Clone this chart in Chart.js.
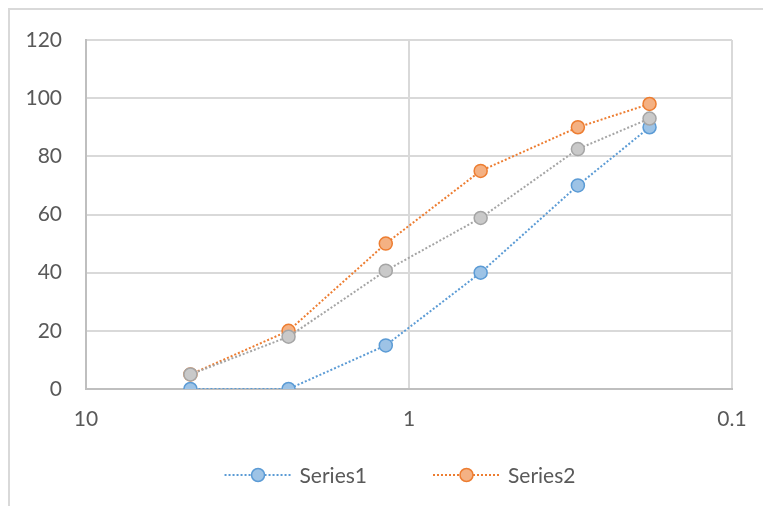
<!DOCTYPE html>
<html>
<head>
<meta charset="utf-8">
<title>Series1 / Series2</title>
<script src="https://cdn.jsdelivr.net/npm/chart.js@4/dist/chart.umd.min.js"></script>
<style>
  html, body { margin: 0; padding: 0; background: #ffffff; }
  #wrap { width: 763px; height: 506px; }
</style>
</head>
<body>
<div id="wrap"><canvas id="chart" width="763" height="506"></canvas></div>
<script>
// Sizes on the (reversed) logarithmic x axis
const sizes = [4.75, 2.36, 1.18, 0.6, 0.3, 0.18];
// Series values (percent)
const series1 = [0, 0, 15, 40, 70, 90];
const series2 = [5, 20, 50, 75, 90, 98];
const series3 = [5, 18, 40.7, 58.8, 82.5, 93];
// Axis ticks
const xTicks = [0.1, 1, 10];
const yTicks = [0, 20, 40, 60, 80, 100, 120];
// Series shown in the legend
const legendNames = ['Series1', 'Series2'];

const FONT = 'Lato, "Open Sans", "Liberation Sans", sans-serif';
const TEXT = '#595959';

function toPoints(values) {
  return values.map((v, i) => ({ x: sizes[i], y: v }));
}

function lineSeries(label, values, line, fill, order) {
  return {
    label,
    data: toPoints(values),
    borderColor: line,
    backgroundColor: fill,
    borderWidth: 2,
    borderDash: [2, 2],
    pointRadius: 6.5,
    pointHoverRadius: 6.5,
    pointBorderWidth: 1.5,
    pointBackgroundColor: fill,
    pointBorderColor: line,
    tension: 0,
    order
  };
}

// White page, outer chart frame
const frame = {
  id: 'frame',
  beforeDraw(chart) {
    const ctx = chart.ctx;
    ctx.save();
    ctx.fillStyle = '#ffffff';
    ctx.fillRect(0, 0, chart.width, chart.height);
    ctx.strokeStyle = '#d9d9d9';
    ctx.lineWidth = 2;
    ctx.strokeRect(9, 9, chart.width + 40, chart.height + 40);
    ctx.restore();
  }
};

// Legend: dotted line with marker, then the series name
const lineLegend = {
  id: 'lineLegend',
  afterDraw(chart) {
    const ctx = chart.ctx;
    const items = chart.data.datasets.filter(d => legendNames.includes(d.label));
    const sample = 67, gapText = 8, gapItem = 66, y = 475;
    ctx.save();
    ctx.font = '21px ' + FONT;
    const widths = items.map(d => sample + gapText + ctx.measureText(d.label).width);
    const total = widths.reduce((a, b) => a + b, 0) + gapItem * (items.length - 1);
    let x = 400 - total / 2;
    items.forEach((d, i) => {
      ctx.strokeStyle = d.borderColor;
      ctx.lineWidth = 2;
      ctx.setLineDash(d.borderDash);
      ctx.beginPath();
      ctx.moveTo(x, y);
      ctx.lineTo(x + sample, y);
      ctx.stroke();
      ctx.setLineDash([]);
      ctx.beginPath();
      ctx.arc(x + sample / 2, y, d.pointRadius, 0, Math.PI * 2);
      ctx.fillStyle = d.pointBackgroundColor;
      ctx.fill();
      ctx.lineWidth = d.pointBorderWidth;
      ctx.strokeStyle = d.pointBorderColor;
      ctx.stroke();
      ctx.fillStyle = TEXT;
      ctx.textBaseline = 'middle';
      ctx.textAlign = 'left';
      ctx.fillText(d.label, x + sample + gapText, y + 1);
      x += widths[i] + gapItem;
    });
    ctx.restore();
  }
};

new Chart(document.getElementById('chart'), {
  type: 'line',
  data: {
    datasets: [
      lineSeries('Series1', series1, '#5b9bd5', '#9dc3e6', 0),
      lineSeries('Series2', series2, '#ed7d31', '#f4b183', 0),
      lineSeries('Series3', series3, '#a5a5a5', '#c9c9c9', -1)
    ]
  },
  options: {
    responsive: false,
    animation: false,
    layout: { padding: { left: 0, top: 40, right: 31, bottom: 74 } },
    plugins: {
      legend: { display: false },
      tooltip: { enabled: false }
    },
    scales: {
      x: {
        type: 'logarithmic',
        reverse: true,
        min: 0.1,
        max: 10,
        afterBuildTicks(axis) { axis.ticks = xTicks.map(v => ({ value: v })); },
        afterFit(axis) { axis.height = 43; },
        ticks: {
          callback: v => String(v),
          color: TEXT,
          font: { family: FONT, size: 21 },
          padding: 18,
          maxRotation: 0,
          autoSkip: false
        },
        grid: { color: '#d9d9d9', lineWidth: 2, drawTicks: false },
        border: { color: '#bfbfbf', width: 2 }
      },
      y: {
        min: 0,
        max: 120,
        afterBuildTicks(axis) { axis.ticks = yTicks.map(v => ({ value: v })); },
        afterFit(axis) { axis.width = 86; },
        ticks: {
          color: TEXT,
          font: { family: FONT, size: 21 },
          padding: 24
        },
        grid: { color: '#d9d9d9', lineWidth: 2, drawTicks: false },
        border: { color: '#bfbfbf', width: 2 }
      }
    }
  },
  plugins: [frame, lineLegend]
});
</script>
</body>
</html>
